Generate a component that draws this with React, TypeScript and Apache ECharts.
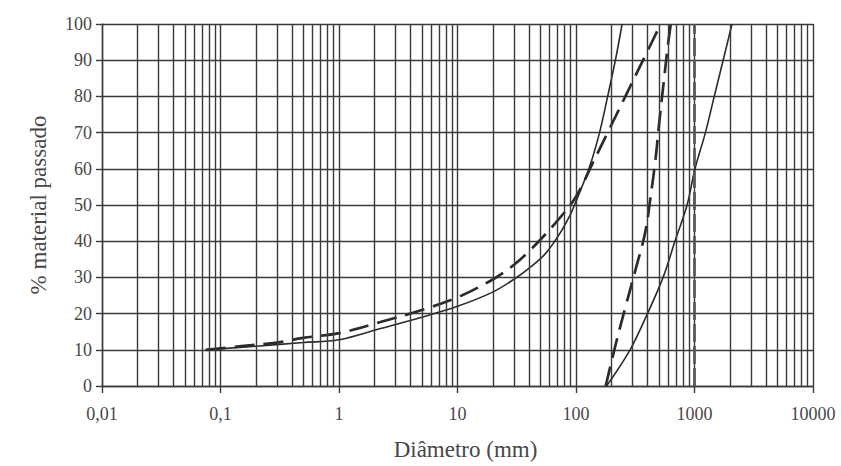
import React, { useEffect, useRef } from "react";
import * as echarts from "echarts";

// Tick labels
const xTickLabels = ["0,01", "0,1", "1", "10", "100", "1000", "10000"];
const yTicks = [0, 10, 20, 30, 40, 50, 60, 70, 80, 90, 100];

// Grid decades and sub-divisions for the log paper
const decades = [0.01, 0.1, 1, 10, 100, 1000];
const subDivisions = [2, 3, 4, 5, 6, 7, 8, 9];

// Curves: [diameter mm, % passing]
const fineSolid: [number, number][] = [
  [0.075, 10], [0.2, 11], [0.5, 12], [1, 12.8], [2.2, 15.8], [5, 19], [10, 22],
  [20, 26], [30, 29.5], [40, 32.5], [55, 36.5], [72, 41.8], [90, 47.5], [100, 51],
  [130, 60.5], [158, 70], [185, 80], [215, 90], [245, 100],
];
const fineDashed: [number, number][] = [
  [0.075, 10], [0.15, 11], [0.3, 12], [0.5, 13.3], [1, 14.6], [2.2, 17.6], [5, 21],
  [10, 24.5], [20, 29.5], [30, 33.5], [41, 37.5], [67, 45], [100, 52.3], [137, 61.3],
  [185, 70], [261, 80], [368, 90], [519, 100],
];
const coarseDashed: [number, number][] = [
  [178, 0], [220, 12.5], [261, 21.7], [322, 32.8], [383, 42.3], [425, 52], [470, 63],
  [505, 73], [550, 84], [596, 94], [631, 100],
];
const coarseSolid: [number, number][] = [
  [181, 0], [286, 10], [401, 20], [543, 30], [684, 40], [866, 50], [1010, 60],
  [1236, 70], [1468, 80], [1745, 90], [2074, 100],
];
const verticalDashed: [number, number][] = [[1000, 0], [1000, 100]];

const FONT = "'Liberation Serif', 'DejaVu Serif', serif";
const INK = "#2b2b2b";
const GRID = "#3a3a3a";
const TEXT = "#474747";

export default function App() {
  const ref = useRef<HTMLDivElement>(null);
  useEffect(() => {
    if (!ref.current) return;
    const chart = echarts.init(ref.current, undefined, { renderer: "svg" });
    const minorLines: { xAxis: number }[] = [];
    decades.forEach((d) => subDivisions.forEach((m) => minorLines.push({ xAxis: m * d })));

    chart.setOption({
      animation: false,
      backgroundColor: "#ffffff",
      grid: { left: 102, right: 28, top: 24, bottom: 73, containLabel: false },
      xAxis: {
        type: "log",
        logBase: 10,
        min: 0.01,
        max: 10000,
        splitNumber: 6,
        name: "Diâmetro (mm)",
        nameLocation: "middle",
        nameGap: 52,
        nameTextStyle: { fontFamily: FONT, fontSize: 23, color: TEXT, padding: [0, 0, 0, 16] },
        axisLine: { show: true, lineStyle: { color: GRID, width: 1.4 } },
        axisTick: { show: true, length: 7, lineStyle: { color: GRID, width: 1.4 } },
        minorTick: { show: false },
        axisLabel: {
          margin: 19,
          fontFamily: FONT,
          fontSize: 18,
          color: TEXT,
          formatter: (v: number) => xTickLabels[Math.round(Math.log10(v)) + 2] ?? "",
        },
        splitLine: { show: true, lineStyle: { color: GRID, width: 1.4 } },
      },
      yAxis: {
        type: "value",
        min: 0,
        max: 100,
        interval: 10,
        name: "% material passado",
        nameLocation: "middle",
        nameGap: 52,
        nameTextStyle: { fontFamily: FONT, fontSize: 23, color: TEXT },
        axisLine: { show: true, lineStyle: { color: GRID, width: 1.4 } },
        axisTick: { show: true, length: 6, lineStyle: { color: GRID, width: 1.4 } },
        axisLabel: {
          margin: 10,
          fontFamily: FONT,
          fontSize: 18,
          color: TEXT,
          formatter: (v: number) => (yTicks.includes(v) ? String(v) : ""),
        },
        splitLine: { show: true, lineStyle: { color: GRID, width: 1.4 } },
      },
      series: [
        {
          type: "line",
          data: [],
          z: 1,
          silent: true,
          markLine: {
            silent: true,
            symbol: "none",
            label: { show: false },
            lineStyle: { color: GRID, width: 1.4, type: "solid" },
            data: minorLines,
          },
        },
        {
          name: "fino contínuo",
          type: "line",
          data: fineSolid,
          smooth: 0.35,
          showSymbol: false,
          z: 3,
          lineStyle: { color: INK, width: 1.6, type: "solid" },
        },
        {
          name: "fino tracejado",
          type: "line",
          data: fineDashed,
          smooth: 0.35,
          showSymbol: false,
          z: 3,
          lineStyle: { color: INK, width: 2.7, type: [20, 9] },
        },
        {
          name: "grosso tracejado",
          type: "line",
          data: coarseDashed,
          smooth: 0.35,
          showSymbol: false,
          z: 3,
          lineStyle: { color: INK, width: 2.7, type: [20, 9] },
        },
        {
          name: "grosso contínuo",
          type: "line",
          data: coarseSolid,
          smooth: 0.35,
          showSymbol: false,
          z: 3,
          lineStyle: { color: INK, width: 1.6, type: "solid" },
        },
        {
          name: "vertical 1000",
          type: "line",
          data: verticalDashed,
          showSymbol: false,
          z: 3,
          lineStyle: { color: "#555555", width: 2.7, type: [18, 4] },
        },
      ],
    });
    return () => chart.dispose();
  }, []);
  return <div ref={ref} style={{ width: 841, height: 466, position: "absolute", left: 0, top: 0 }} />;
}
